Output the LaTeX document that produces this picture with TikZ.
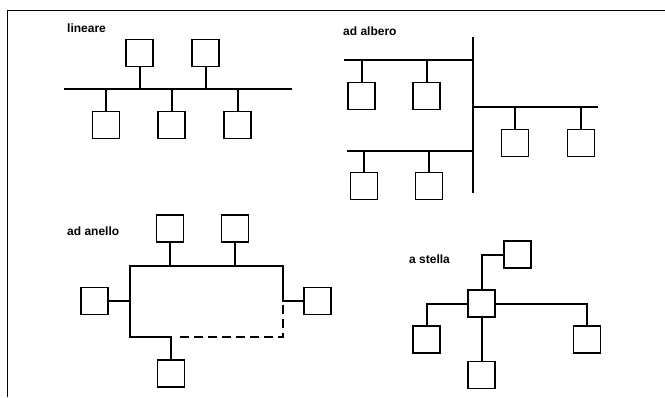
\documentclass[tikz,border=0pt]{standalone}
\usepackage{fontspec}
\setmainfont{Liberation Sans}
\begin{document}
\begin{tikzpicture}[x=1pt,y=-1pt,
  pc/.style={draw,line width=1.6pt,minimum size=27pt,inner sep=0pt},
  wire/.style={line width=2pt},
  lbl/.style={anchor=west,font=\bfseries\fontsize{12}{14}\selectfont,inner sep=0pt},
  frameline/.style={line width=1pt}]
\useasboundingbox (0,0) rectangle (665,397);
% frame
\coordinate (f1) at (7,397);
\coordinate (f2) at (7,10);
\coordinate (f3) at (665,10);
\draw[frameline] (f1) -- (f2) -- (f3);

% ---------- lineare
\node[lbl] (tlin) at (67,28) {lineare};
\coordinate (L1) at (64,89);
\coordinate (L2) at (292,89);
\draw[wire] (L1) -- (L2);
\node[pc] (lt1) at (139.5,53) {};
\node[pc] (lt2) at (205.5,53) {};
\node[pc] (lb1) at (106,125) {};
\node[pc] (lb2) at (171.5,125) {};
\node[pc] (lb3) at (237.5,125) {};
\foreach \n in {lt1,lt2} \draw[wire] (\n.south) -- (\n.south |- L1);
\foreach \n in {lb1,lb2,lb3} \draw[wire] (\n.north) -- (\n.north |- L1);

% ---------- ad albero
\node[lbl] (talb) at (343,31) {ad albero};
\coordinate (T1) at (473,37);
\coordinate (T2) at (473,193);
\draw[wire] (T1) -- (T2);
\coordinate (A1) at (344,60);
\coordinate (A2) at (473,60);
\coordinate (B1) at (473,107);
\coordinate (B2) at (598,107);
\coordinate (C1) at (347,151);
\coordinate (C2) at (473,151);
\draw[wire] (A1) -- (A2);
\draw[wire] (B1) -- (B2);
\draw[wire] (C1) -- (C2);
\node[pc] (a1) at (361.5,96) {};
\node[pc] (a2) at (426.5,96) {};
\node[pc] (b1) at (515,143) {};
\node[pc] (b2) at (581,143) {};
\node[pc] (c1) at (364,186) {};
\node[pc] (c2) at (429,186) {};
\foreach \n in {a1,a2} \draw[wire] (\n.north) -- (\n.north |- A1);
\foreach \n in {b1,b2} \draw[wire] (\n.north) -- (\n.north |- B1);
\foreach \n in {c1,c2} \draw[wire] (\n.north) -- (\n.north |- C1);

% ---------- ad anello
\node[lbl] (tane) at (67,231) {ad anello};
\coordinate (R1) at (130,266);
\coordinate (R2) at (283,266);
\coordinate (R3) at (283,337);
\coordinate (R4) at (130,337);
\node[pc] (r1) at (170,228.5) {};
\node[pc] (r2) at (235,228.5) {};
\node[pc] (rl) at (94.5,301) {};
\node[pc] (rr) at (317.5,301) {};
\node[pc] (rb) at (171,373.5) {};
\coordinate (RD1) at (283,305);
\coordinate (RD2) at (177,337);
\draw[wire] (rr.west) -- (rr.west -| R2) -- (R2) -- (R1) -- (R4) -- (rb.north |- R4) -- (rb.north);
\draw[wire,dash pattern=on 9pt off 5pt] (RD1) -- (R3) -- (RD2);
\foreach \n in {r1,r2} \draw[wire] (\n.south) -- (\n.south |- R1);
\draw[wire] (rl.east) -- (rl.east -| R1);

% ---------- a stella
\node[lbl] (tste) at (409,259) {a stella};
\node[pc] (sc) at (481.5,303.5) {};
\node[pc] (st) at (517.5,254.5) {};
\node[pc] (sl) at (426.5,339.5) {};
\node[pc] (sr) at (587,339.5) {};
\node[pc] (sb) at (481.5,375) {};
\draw[wire] (sc.north) |- (st.west);
\draw[wire] (sc.west) -| (sl.north);
\draw[wire] (sc.east) -| (sr.north);
\draw[wire] (sc.south) -- (sb.north);
\end{tikzpicture}
\end{document}
